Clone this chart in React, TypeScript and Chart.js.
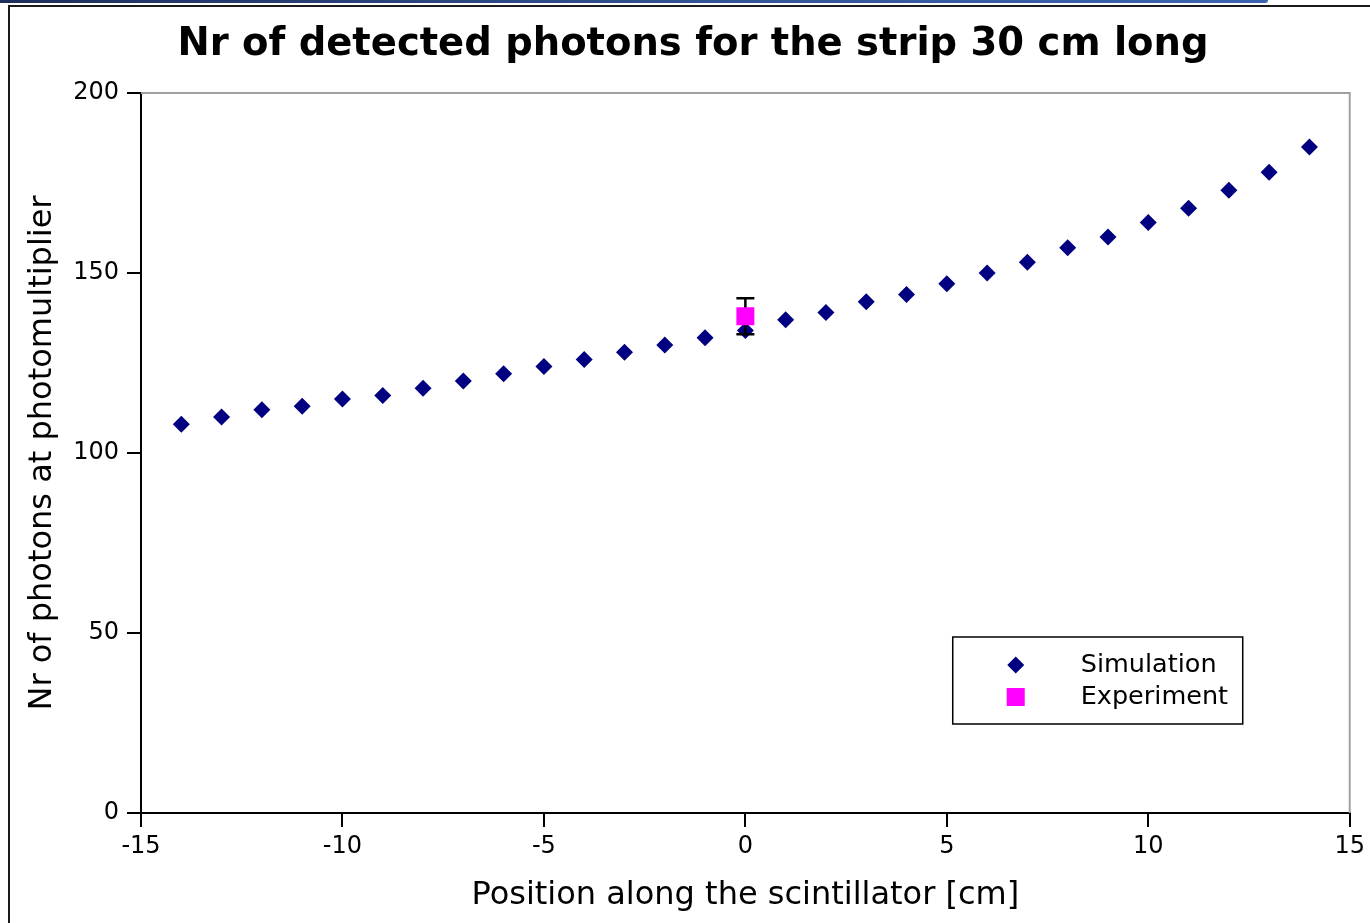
import React, { useEffect, useRef } from "react";
import { Chart, registerables } from "chart.js";

Chart.register(...registerables);

// Position of the light source along the strip [cm]
const positions = [-14, -13, -12, -11, -10, -9, -8, -7, -6, -5, -4, -3, -2, -1, 0, 1, 2, 3, 4, 5, 6, 7, 8, 9, 10, 11, 12, 13, 14];
// Simulated number of photons reaching the photomultiplier
const simulation = [108, 110, 112, 113, 115, 116, 118, 120, 122, 124, 126, 128, 130, 132, 134, 137, 139, 142, 144, 147, 150, 153, 157, 160, 164, 168, 173, 178, 185];
// Measured point with its uncertainty
const experimentX = [0];
const experimentY = [138];
const experimentErr = [5];

const yTicks = [0, 50, 100, 150, 200];
const xTicks = [-15, -10, -5, 0, 5, 10, 15];

const TITLE = "Nr of detected photons for the strip 30 cm long";
const SIM_COLOR = "#000080";
const EXP_COLOR = "#ff00ff";
const FONT = "'DejaVu Sans', 'Liberation Sans', sans-serif";

// Chart heading, centred over the page
const heading = {
  id: "heading",
  afterDraw(chart: any) {
    const { ctx } = chart;
    ctx.save();
    ctx.fillStyle = "#000000";
    ctx.font = `bold 38.5px ${FONT}`;
    ctx.textAlign = "center";
    ctx.textBaseline = "alphabetic";
    ctx.fillText(TITLE, 693, 55);
    ctx.restore();
  },
};

// Gray frame on the top and right of the plotting area
const frameLines = {
  id: "frameLines",
  beforeDatasetsDraw(chart: any) {
    const { ctx, chartArea } = chart;
    ctx.save();
    ctx.strokeStyle = "#a0a0a0";
    ctx.lineWidth = 2;
    ctx.beginPath();
    ctx.moveTo(chartArea.left, chartArea.top);
    ctx.lineTo(chartArea.right, chartArea.top);
    ctx.lineTo(chartArea.right, chartArea.bottom);
    ctx.stroke();
    ctx.restore();
  },
};

// Error bar on the measured point, drawn over the simulation markers
const errorBars = {
  id: "errorBars",
  afterDatasetDraw(chart: any, args: any) {
    if (args.index !== 1) return;
    const { ctx, scales } = chart;
    ctx.save();
    ctx.strokeStyle = "#000000";
    ctx.lineWidth = 2.5;
    experimentX.forEach((xv, i) => {
      const x = scales.x.getPixelForValue(xv);
      const yTop = scales.y.getPixelForValue(experimentY[i] + experimentErr[i]);
      const yBot = scales.y.getPixelForValue(experimentY[i] - experimentErr[i]);
      ctx.beginPath();
      ctx.moveTo(x, yTop);
      ctx.lineTo(x, yBot);
      ctx.moveTo(x - 9, yTop);
      ctx.lineTo(x + 9, yTop);
      ctx.moveTo(x - 9, yBot);
      ctx.lineTo(x + 9, yBot);
      ctx.stroke();
    });
    ctx.restore();
  },
};

// Boxed legend in the lower right of the plotting area
const boxedLegend = {
  id: "boxedLegend",
  afterDraw(chart: any) {
    const { ctx, chartArea } = chart;
    const left = chartArea.right - 397;
    const top = chartArea.bottom - 176;
    const w = 290;
    const h = 87;
    ctx.save();
    ctx.fillStyle = "#ffffff";
    ctx.fillRect(left, top, w, h);
    ctx.strokeStyle = "#000000";
    ctx.lineWidth = 1.5;
    ctx.strokeRect(left, top, w, h);

    const mx = left + 63;
    const y1 = top + 28;
    const y2 = top + 60;
    ctx.fillStyle = SIM_COLOR;
    ctx.beginPath();
    ctx.moveTo(mx, y1 - 8.5);
    ctx.lineTo(mx + 8.5, y1);
    ctx.lineTo(mx, y1 + 8.5);
    ctx.lineTo(mx - 8.5, y1);
    ctx.closePath();
    ctx.fill();
    ctx.fillStyle = EXP_COLOR;
    ctx.fillRect(mx - 9, y2 - 9, 18, 18);

    ctx.fillStyle = "#000000";
    ctx.font = `25.5px ${FONT}`;
    ctx.textAlign = "left";
    ctx.textBaseline = "middle";
    ctx.fillText("Simulation", left + 128, y1);
    ctx.fillText("Experiment", left + 128, y2);
    ctx.restore();
  },
};

export default function App() {
  const canvasRef = useRef<HTMLCanvasElement | null>(null);

  useEffect(() => {
    if (!canvasRef.current) return;
    Chart.defaults.font.family = FONT;
    Chart.defaults.color = "#000000";

    const chart = new Chart(canvasRef.current, {
      type: "scatter",
      data: {
        datasets: [
          {
            label: "Experiment",
            data: experimentX.map((x, i) => ({ x, y: experimentY[i] })),
            pointStyle: "rect",
            pointRadius: 12.7,
            pointBackgroundColor: EXP_COLOR,
            pointBorderWidth: 0,
          },
          {
            label: "Simulation",
            data: positions.map((x, i) => ({ x, y: simulation[i] })),
            pointStyle: "rectRot",
            pointRadius: 8.5,
            pointBackgroundColor: SIM_COLOR,
            pointBorderWidth: 0,
          },
        ],
      },
      options: {
        animation: false,
        responsive: false,
        layout: { padding: { left: 16, right: 20, top: 93, bottom: 0 } },
        plugins: {
          legend: { display: false },
          tooltip: { enabled: false },
          title: { display: false },
        },
        scales: {
          x: {
            type: "linear",
            min: xTicks[0],
            max: xTicks[xTicks.length - 1],
            afterBuildTicks: (s: any) => {
              s.ticks = xTicks.map((v) => ({ value: v }));
            },
            afterFit: (s: any) => {
              s.height = 110;
            },
            grid: {
              drawOnChartArea: false,
              drawTicks: true,
              tickLength: 14,
              color: "#000000",
              lineWidth: 2,
            },
            border: { display: true, color: "#000000", width: 2 },
            ticks: {
              color: "#000000",
              font: { size: 24, family: FONT },
              padding: 5,
              maxRotation: 0,
            },
            title: {
              display: true,
              text: "Position along the scintillator [cm]",
              color: "#000000",
              font: { size: 32, family: FONT, lineHeight: 1.2 },
              padding: { top: 0, bottom: 8 },
            },
          },
          y: {
            type: "linear",
            min: yTicks[0],
            max: yTicks[yTicks.length - 1],
            afterBuildTicks: (s: any) => {
              s.ticks = yTicks.map((v) => ({ value: v }));
            },
            afterFit: (s: any) => {
              s.width = 125;
            },
            grid: {
              drawOnChartArea: false,
              drawTicks: true,
              tickLength: 14,
              color: "#000000",
              lineWidth: 2,
            },
            border: { display: true, color: "#000000", width: 2 },
            ticks: {
              color: "#000000",
              font: { size: 24, family: FONT },
              padding: 8,
            },
            title: {
              display: true,
              text: "Nr of photons at photomultiplier",
              color: "#000000",
              font: { size: 32, family: FONT, lineHeight: 1.2 },
              padding: { top: 7, bottom: 0 },
            },
          },
        },
      },
      plugins: [heading, frameLines, errorBars, boxedLegend],
    });

    return () => chart.destroy();
  }, []);

  return (
    <div
      style={{
        position: "absolute",
        left: 0,
        top: 0,
        width: 1370,
        height: 923,
        overflow: "hidden",
        background: "#ffffff",
      }}
    >
      <div
        style={{
          position: "absolute",
          left: 0,
          top: 0,
          width: 1268,
          height: 3,
          borderBottomRightRadius: 3,
          background: "linear-gradient(to right, #1f2f5c, #34569a 60%, #3c64b0)",
        }}
      />
      <div
        style={{
          position: "absolute",
          left: 8,
          top: 5,
          right: 0,
          bottom: 0,
          borderTop: "2px solid #1a1a1a",
          borderLeft: "2px solid #1a1a1a",
        }}
      />
      <canvas
        ref={canvasRef}
        width={1370}
        height={923}
        style={{ position: "absolute", left: 0, top: 0, width: 1370, height: 923 }}
      />
    </div>
  );
}
